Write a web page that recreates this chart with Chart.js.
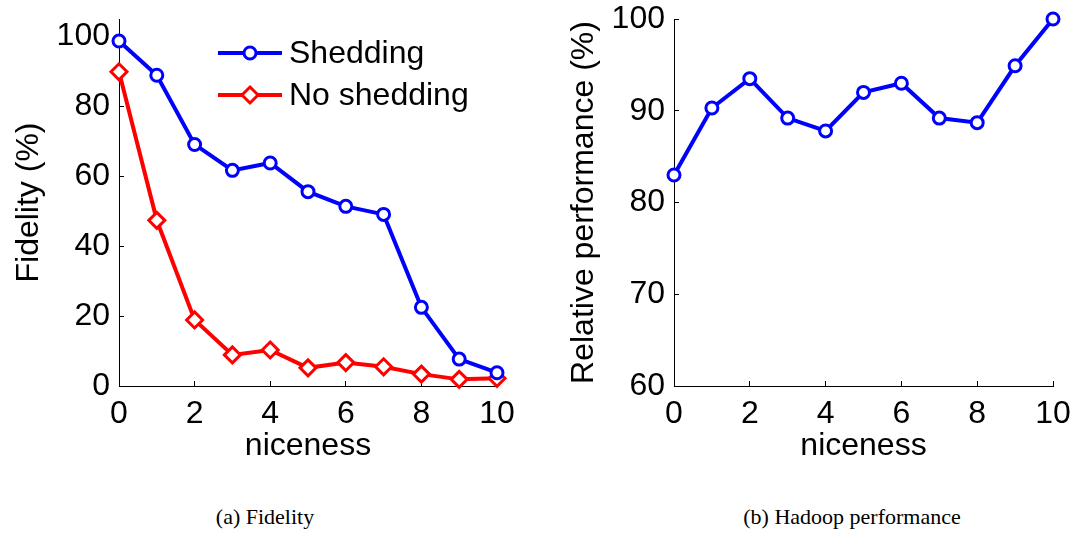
<!DOCTYPE html>
<html>
<head>
<meta charset="utf-8">
<script src="https://cdn.jsdelivr.net/npm/chart.js@4/dist/chart.umd.min.js"></script>
<style>
  body { margin: 0; background: #fff; }
  #wrap { position: relative; width: 1079px; height: 537px; overflow: hidden; }
  .box { position: absolute; top: 0; height: 480px; }
  .caption { position: absolute; top: 504px; font-family: "Liberation Serif", serif; font-size: 22px; color: #000; white-space: nowrap; transform: translateX(-50%); }
</style>
</head>
<body>
<div id="wrap">
  <div class="box" style="left:0;width:540px"><canvas id="fidelityChart"></canvas></div>
  <div class="box" style="left:540px;width:539px"><canvas id="hadoopChart"></canvas></div>
  <div class="caption" style="left:265px">(a) Fidelity</div>
  <div class="caption" style="left:852px">(b) Hadoop performance</div>
</div>
<script>
// data
const niceness = [0, 1, 2, 3, 4, 5, 6, 7, 8, 9, 10];
const shedding = [98.7, 88.9, 69.1, 61.7, 63.8, 55.6, 51.4, 49.1, 22.5, 7.7, 3.8];
const noShedding = [89.9, 47.4, 18.9, 8.9, 10.3, 5.2, 6.7, 5.5, 3.4, 1.9, 2.2];
const relPerformance = [83.0, 90.3, 93.5, 89.2, 87.8, 92.0, 93.0, 89.2, 88.7, 94.9, 100];
const xTicks = [0, 2, 4, 6, 8, 10];
const fidelityTicks = [0, 20, 40, 60, 80, 100];
const perfTicks = [60, 70, 80, 90, 100];

const FONT = 'Liberation Sans, Arial, sans-serif';
const BLUE = '#0000ff';
const RED = '#ff0000';

document.addEventListener('DOMContentLoaded', () => {
    const pts = (ys) => niceness.map((x, i) => ({ x: x, y: ys[i] }));
    const fixTicks = (list) => (scale) => { scale.ticks = list.map(v => ({ value: v })); };

    const series = (label, ys, color, style, radius) => ({
        label: label,
        data: pts(ys),
        borderColor: color,
        backgroundColor: color,
        borderWidth: 4,
        pointStyle: style,
        pointRadius: radius,
        pointBorderWidth: 3,
        pointBackgroundColor: '#fff',
        pointBorderColor: color,
        clip: false
    });

    // fixed box sizes so the plot area lands where the original has it
    const xAxis = {
        type: 'linear', min: 0, max: 10,
        afterBuildTicks: fixTicks(xTicks),
        afterFit: (s) => { s.height = 94; s.paddingLeft = 0; s.paddingRight = 0; },
        border: { display: true, color: '#000', width: 1 },
        grid: { drawOnChartArea: false, color: '#000', tickLength: -5 },
        ticks: { color: '#000', padding: 14, font: { family: FONT, size: 32 }, maxRotation: 0 },
        title: { display: true, text: 'niceness', color: '#000', font: { family: FONT, size: 32 }, padding: { bottom: 15 } }
    };

    const yAxis = (min, max, list, width, title, padTop) => ({
        type: 'linear', min: min, max: max,
        afterBuildTicks: fixTicks(list),
        afterFit: (s) => { s.width = width; s.paddingTop = 0; s.paddingBottom = 0; },
        border: { display: true, color: '#000', width: 1 },
        grid: { drawOnChartArea: false, color: '#000', tickLength: -5 },
        ticks: { color: '#000', padding: 14, font: { family: FONT, size: 32 } },
        title: { display: true, text: title, color: '#000', font: { family: FONT, size: 32 }, padding: { top: padTop } }
    });

    // legend drawn by hand: line with marker in the middle, like matlab
    const lineLegend = {
        id: 'lineLegend',
        afterDraw(chart) {
            const ctx = chart.ctx;
            const x0 = 218, x1 = 282, tx = 289;
            const rows = [53, 95];
            chart.data.datasets.forEach((ds, i) => {
                const y = rows[i];
                ctx.save();
                ctx.strokeStyle = ds.borderColor;
                ctx.lineWidth = 4;
                ctx.beginPath();
                ctx.moveTo(x0, y);
                ctx.lineTo(x1, y);
                ctx.stroke();
                const cx = (x0 + x1) / 2;
                ctx.fillStyle = '#fff';
                ctx.lineWidth = 3;
                ctx.beginPath();
                if (ds.pointStyle === 'rectRot') {
                    const r = ds.pointRadius;
                    ctx.moveTo(cx, y - r);
                    ctx.lineTo(cx + r, y);
                    ctx.lineTo(cx, y + r);
                    ctx.lineTo(cx - r, y);
                    ctx.closePath();
                } else {
                    ctx.arc(cx, y, ds.pointRadius, 0, Math.PI * 2);
                }
                ctx.fill();
                ctx.stroke();
                ctx.fillStyle = '#000';
                ctx.font = '32px ' + FONT;
                ctx.textBaseline = 'middle';
                ctx.fillText(ds.label, tx, y + 1);
                ctx.restore();
            });
        }
    };

    new Chart(document.getElementById('fidelityChart'), {
        type: 'line',
        data: {
            datasets: [
                series('Shedding', shedding, BLUE, 'circle', 6),
                series('No shedding', noShedding, RED, 'rectRot', 8)
            ]
        },
        options: {
            responsive: true,
            maintainAspectRatio: false,
            animation: false,
            layout: { padding: { top: 19, right: 43, left: 0, bottom: 0 } },
            plugins: { legend: { display: false }, tooltip: { enabled: false } },
            scales: {
                x: xAxis,
                y: yAxis(0, 105, fidelityTicks, 119, 'Fidelity (%)', 10)
            }
        },
        plugins: [lineLegend]
    });

    new Chart(document.getElementById('hadoopChart'), {
        type: 'line',
        data: {
            datasets: [series('Relative performance', relPerformance, BLUE, 'circle', 6)]
        },
        options: {
            responsive: true,
            maintainAspectRatio: false,
            animation: false,
            layout: { padding: { top: 19, right: 26, left: 0, bottom: 0 } },
            plugins: { legend: { display: false }, tooltip: { enabled: false } },
            scales: {
                x: xAxis,
                y: yAxis(60, 100, perfTicks, 134, 'Relative performance (%)', 25)
            }
        }
    });
});
</script>
</body>
</html>
